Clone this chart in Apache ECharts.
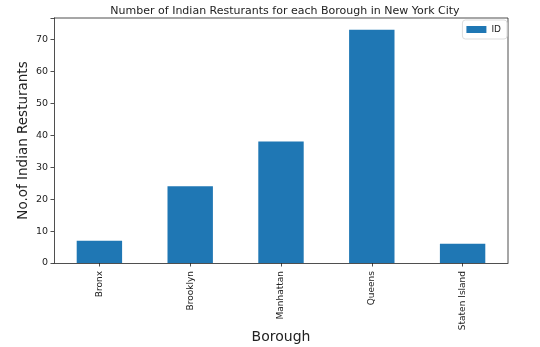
<!DOCTYPE html>
<html><head><meta charset="utf-8">
<script src="https://cdn.jsdelivr.net/npm/echarts@6/dist/echarts.min.js"></script>
<style>html,body{margin:0;padding:0;background:#fff}#c{width:540px;height:347px}</style>
</head><body><div id="c"></div>
<script>
const categories = ["Bronx", "Brooklyn", "Manhattan", "Queens", "Staten Island"];
const ids = [7, 24, 38, 73, 6];
const yTicks = [0, 10, 20, 30, 40, 50, 60, 70];

const font = "DejaVu Sans";
const chart = echarts.init(document.getElementById('c'), null, {renderer: 'canvas'});
chart.setOption({
  animation: false,
  backgroundColor: '#fff',
  textStyle: {fontFamily: font},
  title: {
    text: "Number of Indian Resturants for each Borough in New York City",
    left: 280, top: 1, textAlign: 'center',
    textStyle: {fontFamily: font, fontSize: 11, fontWeight: 'normal', color: '#222'}
  },
  legend: {
    right: 33, top: 20, itemWidth: 20, itemHeight: 7, itemGap: 6,
    padding: [5, 6, 5, 4],
    borderColor: '#ddd', borderWidth: 1, borderRadius: 3,
    textStyle: {fontFamily: font, fontSize: 9, color: '#222'},
    data: [{name: 'ID', icon: 'rect'}]
  },
  grid: {left: 54, right: 32, top: 18, bottom: 84, containLabel: false, outerBoundsMode: 'none'},
  xAxis: {
    type: 'category', data: categories,
    name: 'Borough', nameLocation: 'middle', nameGap: 67, nameMoveOverlap: false,
    nameTextStyle: {fontFamily: font, fontSize: 14, color: '#222', verticalAlign: 'top'},
    axisLine: {show: true, onZero: false, lineStyle: {color: '#222', width: 0.8}},
    axisTick: {show: true, alignWithLabel: true, length: 3.5, lineStyle: {color: '#222', width: 0.8}},
    axisLabel: {rotate: 90, fontFamily: font, fontSize: 9, color: '#222', margin: 8},
    splitLine: {show: false}
  },
  yAxis: {
    type: 'value', min: 0, max: 76.65, interval: 10,
    name: 'No.of Indian Resturants', nameLocation: 'middle', nameGap: 24, nameMoveOverlap: false,
    nameTextStyle: {fontFamily: font, fontSize: 13.5, color: '#222'},
    axisLine: {show: true, lineStyle: {color: '#222', width: 0.8}},
    axisTick: {show: true, length: 3.5, lineStyle: {color: '#222', width: 0.8}},
    axisLabel: {fontFamily: font, fontSize: 9.5, color: '#222', margin: 6,
      formatter: v => yTicks.includes(v) ? String(v) : ''},
    splitLine: {show: false}
  },
  series: [{
    name: 'ID', type: 'bar', data: ids, barWidth: '50%',
    itemStyle: {color: '#1f77b4'}
  }],
  graphic: [
    {type: 'line', shape: {x1: 54, y1: 18, x2: 508, y2: 18}, style: {stroke: '#222', lineWidth: 0.8}, silent: true},
    {type: 'line', shape: {x1: 508, y1: 18, x2: 508, y2: 263}, style: {stroke: '#222', lineWidth: 0.8}, silent: true}
  ]
});
</script></body></html>
